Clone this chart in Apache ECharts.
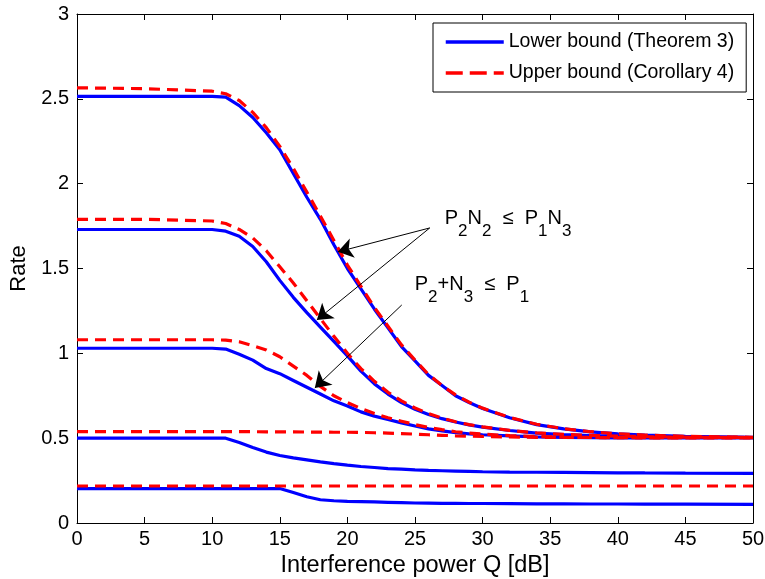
<!DOCTYPE html>
<html><head><meta charset="utf-8">
<script src="https://cdn.jsdelivr.net/npm/echarts@6/dist/echarts.min.js"></script>
<style>html,body{margin:0;padding:0;background:#fff}#c{width:765px;height:579px}</style>
</head><body><div id="c"></div>
<script>
// Interference power Q [dB] sample grid
const Q = [0,5,10,11,12,13,14,15,16,17,18,19,20,21,22,23,24,25,26,27,28,29,30,32,34,36,38,40,42,45,50];

// Lower bound (Theorem 3) curves
const lowerA = [2.515,2.515,2.515,2.51,2.46,2.39,2.30,2.20,2.06,1.92,1.79,1.64,1.50,1.38,1.26,1.15,1.04,0.955,0.87,0.81,0.75,0.71,0.675,0.62,0.58,0.555,0.537,0.525,0.518,0.511,0.505];
const lowerB = [1.73,1.73,1.73,1.72,1.69,1.63,1.54,1.43,1.33,1.24,1.155,1.07,0.985,0.895,0.82,0.76,0.71,0.67,0.64,0.615,0.595,0.578,0.565,0.545,0.53,0.521,0.515,0.511,0.508,0.506,0.504];
const lowerC = [1.03,1.03,1.03,1.025,0.995,0.96,0.91,0.88,0.84,0.80,0.76,0.72,0.69,0.655,0.63,0.61,0.59,0.572,0.555,0.543,0.533,0.525,0.52,0.513,0.508,0.505,0.503,0.502,0.502,0.501,0.501];
const lowerD = [0.50,0.50,0.50,0.50,0.475,0.445,0.418,0.398,0.384,0.372,0.36,0.35,0.341,0.333,0.327,0.321,0.317,0.313,0.31,0.308,0.306,0.304,0.302,0.30,0.299,0.298,0.297,0.296,0.295,0.294,0.293];
const lowerE = [0.203,0.203,0.203,0.203,0.203,0.203,0.203,0.203,0.18,0.155,0.137,0.131,0.128,0.126,0.124,0.122,0.12,0.118,0.117,0.116,0.116,0.115,0.115,0.114,0.113,0.113,0.112,0.112,0.111,0.111,0.11];

// Upper bound (Corollary 4) curves
const upperA = [2.565,2.56,2.545,2.53,2.49,2.42,2.33,2.22,2.09,1.95,1.81,1.665,1.52,1.395,1.27,1.16,1.05,0.96,0.875,0.81,0.755,0.712,0.677,0.622,0.582,0.556,0.538,0.526,0.518,0.511,0.505];
const upperB = [1.79,1.79,1.78,1.765,1.73,1.68,1.605,1.51,1.415,1.31,1.205,1.10,1.0,0.91,0.835,0.77,0.72,0.678,0.645,0.618,0.597,0.58,0.567,0.546,0.531,0.522,0.516,0.512,0.509,0.506,0.504];
const upperC = [1.08,1.08,1.08,1.078,1.068,1.045,1.02,0.98,0.925,0.87,0.805,0.75,0.71,0.675,0.645,0.62,0.60,0.58,0.563,0.55,0.538,0.53,0.524,0.515,0.51,0.506,0.504,0.503,0.502,0.501,0.501];
const upperD = [0.538,0.538,0.538,0.538,0.538,0.538,0.537,0.537,0.537,0.536,0.536,0.535,0.535,0.534,0.532,0.53,0.527,0.524,0.52,0.517,0.514,0.512,0.51,0.507,0.505,0.504,0.504,0.503,0.503,0.503,0.503];
const upperE = [0.218,0.218,0.218,0.218,0.218,0.218,0.218,0.218,0.218,0.218,0.218,0.218,0.218,0.218,0.218,0.218,0.218,0.218,0.218,0.218,0.218,0.218,0.218,0.218,0.218,0.218,0.218,0.218,0.218,0.218,0.218];

const lowerName = 'Lower bound (Theorem 3)';
const upperName = 'Upper bound (Corollary 4)';

// Annotation arrows (data coordinates): [from, to]
const arrowLines = [
  [[26.09,1.739],[19.29,1.598]],
  [[26.09,1.739],[17.74,1.197]],
  [[24.02,1.285],[17.59,0.796]]
];
// Annotation texts with anchor (left, middle) in data coordinates
const annotations = [
  {rich:'{a|P}{s|2}{a|N}{s|2}{a|  ≤  P}{s|1}{a|N}{s|3}', at:[27.2,1.804]},
  {rich:'{a|P}{s|2}{a|+N}{s|3}{a|  ≤  P}{s|1}', at:[24.98,1.418]}
];

const FONT = '"Liberation Sans", Arial, Helvetica, sans-serif';
const pair = ys => Q.map((q,i)=>[q, ys[i]]);

function lineSeries(name, ys, color, dashed, z){
  return {
    type:'line', name, data: pair(ys), symbol:'none', smooth:false,
    z, silent:true, animation:false,
    lineStyle:{color, width:3.2, type: dashed ? [11,7] : 'solid'},
    itemStyle:{color},
    emphasis:{disabled:true}
  };
}

const chart = echarts.init(document.getElementById('c'), null, {renderer:'canvas'});

const axisCommonX = {
  type:'value', min:0, max:50, interval:5,
  axisLine:{show:true, onZero:false, lineStyle:{color:'#000', width:1}},
  axisTick:{show:true, inside:true, length:6, lineStyle:{color:'#000'}},
  splitLine:{show:false}
};
const axisCommonY = {
  type:'value', min:0, max:3, interval:0.5,
  axisLine:{show:true, onZero:false, lineStyle:{color:'#000', width:1}},
  axisTick:{show:true, inside:true, length:6, lineStyle:{color:'#000'}},
  splitLine:{show:false}
};

const series = [
  lineSeries(lowerName, lowerA, '#0000ff', false, 2),
  lineSeries(lowerName, lowerB, '#0000ff', false, 2),
  lineSeries(lowerName, lowerC, '#0000ff', false, 2),
  lineSeries(lowerName, lowerD, '#0000ff', false, 2),
  lineSeries(lowerName, lowerE, '#0000ff', false, 2),
  lineSeries(upperName, upperA, '#ff0000', true, 3),
  lineSeries(upperName, upperB, '#ff0000', true, 3),
  lineSeries(upperName, upperC, '#ff0000', true, 3),
  lineSeries(upperName, upperD, '#ff0000', true, 3),
  lineSeries(upperName, upperE, '#ff0000', true, 3),
  {
    type:'line', data:[], silent:true, z:5, animation:false,
    markLine:{
      silent:true, animation:false,
      symbol:['none','arrow'], symbolSize:15,
      label:{show:false},
      lineStyle:{color:'#000', width:1, type:'solid'},
      itemStyle:{color:'#000'},
      emphasis:{disabled:true},
      data: arrowLines.map(l => [{coord:l[0]},{coord:l[1]}])
    }
  }
];

chart.setOption({
  animation:false,
  backgroundColor:'#fff',
  textStyle:{fontFamily:FONT},
  grid:{left:77, right:12, top:14, bottom:56, containLabel:false, outerBoundsMode:'none'},
  legend:{
    data:[
      {name:lowerName, lineStyle:{width:3.5, type:'solid'}},
      {name:upperName, lineStyle:{width:3.5, type:[17,7]}}
    ],
    orient:'vertical', left:433, top:23,
    padding:[9,12,9,11], itemWidth:58, itemHeight:14, itemGap:11,
    borderColor:'#000', borderWidth:1, backgroundColor:'#fff',
    selectedMode:false,
    itemStyle:{opacity:0, color:'rgba(0,0,0,0)', borderWidth:0},
    textStyle:{fontSize:19.5, color:'#000', fontFamily:FONT}
  },
  xAxis:[
    Object.assign({}, axisCommonX, {
      position:'bottom',
      name:'Interference power Q [dB]', nameLocation:'middle', nameGap:27,
      nameTextStyle:{fontSize:23.5, color:'#000', fontFamily:FONT},
      axisLabel:{show:true, margin:6, fontSize:20, color:'#000', fontFamily:FONT}
    }),
    Object.assign({}, axisCommonX, {position:'top', axisLabel:{show:false}})
  ],
  yAxis:[
    Object.assign({}, axisCommonY, {
      position:'left',
      name:'Rate', nameLocation:'middle', nameGap:43,
      nameTextStyle:{fontSize:22, color:'#000', fontFamily:FONT},
      axisLabel:{show:true, margin:8, fontSize:20, color:'#000', fontFamily:FONT}
    }),
    Object.assign({}, axisCommonY, {position:'right', axisLabel:{show:false}})
  ],
  series
});

// place annotation texts using the chart's own coordinate conversion
const graphics = annotations.map(a => {
  const p = chart.convertToPixel({xAxisIndex:0, yAxisIndex:0}, a.at);
  return {
    type:'text', silent:true, z:10,
    x:p[0], y:p[1]-8,
    style:{
      text:a.rich, align:'left', verticalAlign:'top', fill:'#000',
      font:'20px ' + FONT,
      rich:{
        a:{fontSize:20, lineHeight:20, fill:'#000', fontFamily:FONT, verticalAlign:'middle'},
        s:{fontSize:17, lineHeight:17, fill:'#000', fontFamily:FONT, verticalAlign:'middle', padding:[25,0,0,0]}
      }
    }
  };
});
chart.setOption({graphic:graphics});
</script>
</body></html>
